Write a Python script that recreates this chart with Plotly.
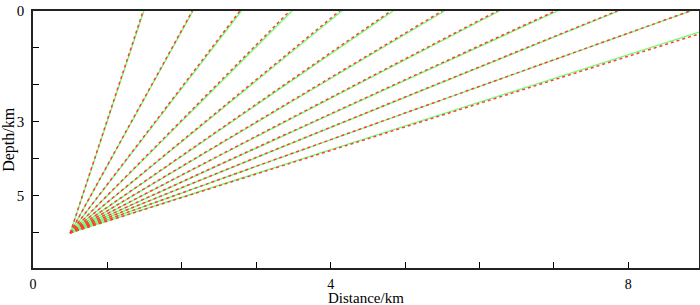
import plotly.graph_objects as go

# source point (km)
src_x = 0.5
src_depth = 6.0

# red ray end points (distance km, depth km)
red_end_x = [1.48, 2.14, 2.78, 3.45, 4.12, 4.81, 5.50, 6.24, 7.02, 7.85, 8.83, 8.95]
red_end_depth = [0, 0, 0, 0, 0, 0, 0, 0, 0, 0, 0, 0.62]

# green ray end points
green_end_x = [1.49, 2.15, 2.80, 3.48, 4.15, 4.84, 5.53, 6.27, 7.05, 7.87, 8.84, 8.95]
green_end_depth = [0, 0, 0, 0, 0, 0, 0, 0, 0, 0, 0, 0.57]

x_tickvals = [0, 1, 2, 3, 4, 5, 6, 7, 8]
x_ticktext = ["0", "", "", "", "4", "", "", "", "8"]
y_tickvals = [0, 1, 2, 3, 4, 5, 6]
y_ticktext = ["0", "", "", "3", "", "5", ""]

fig = go.Figure()

for ex, ed in zip(green_end_x, green_end_depth):
    fig.add_trace(go.Scatter(x=[src_x, ex], y=[src_depth, ed], mode="lines",
                             line=dict(color="rgb(110,255,110)", width=1.3),
                             showlegend=False, hoverinfo="skip"))
for ex, ed in zip(red_end_x, red_end_depth):
    fig.add_trace(go.Scatter(x=[src_x, ex], y=[src_depth, ed], mode="lines",
                             line=dict(color="rgb(255,60,60)", width=1.5, dash="dot"),
                             showlegend=False, hoverinfo="skip"))

fig.update_layout(
    width=700, height=305,
    margin=dict(l=33, r=1, t=11, b=37),
    paper_bgcolor="white", plot_bgcolor="white",
    font=dict(family="Liberation Serif", size=15, color="black"),
    xaxis=dict(range=[0, 8.95], tickvals=x_tickvals, ticktext=x_ticktext,
               ticks="inside", ticklen=6, tickwidth=1, tickcolor="black",
               showline=True, linecolor="#222", linewidth=1.5, mirror=True,
               showgrid=False, zeroline=False, ticklabelstandoff=2,
               tickfont=dict(family="Liberation Serif", size=14, color="black"),
               automargin=False),
    yaxis=dict(range=[6.95, 0], tickvals=y_tickvals, ticktext=y_ticktext,
               ticks="inside", ticklen=6, tickwidth=1, tickcolor="black",
               showline=True, linecolor="#222", linewidth=1.5, mirror=True,
               showgrid=False, zeroline=False, ticklabelstandoff=4,
               tickfont=dict(family="Liberation Serif", size=15, color="black"),
               automargin=False),
    annotations=[
        dict(text="Distance/km", xref="paper", yref="paper", x=0.5, y=-0.118,
             xanchor="center", yanchor="middle", showarrow=False,
             font=dict(family="Liberation Serif", size=15, color="black")),
        dict(text="Depth/km", xref="paper", yref="paper", x=-0.037, y=0.5,
             xanchor="center", yanchor="middle", showarrow=False, textangle=-90,
             font=dict(family="Liberation Serif", size=16, color="black")),
    ],
)

fig.write_html("out.html", config={"displayModeBar": False},
               post_script="document.body.style.margin='0';document.body.style.overflow='hidden';")
